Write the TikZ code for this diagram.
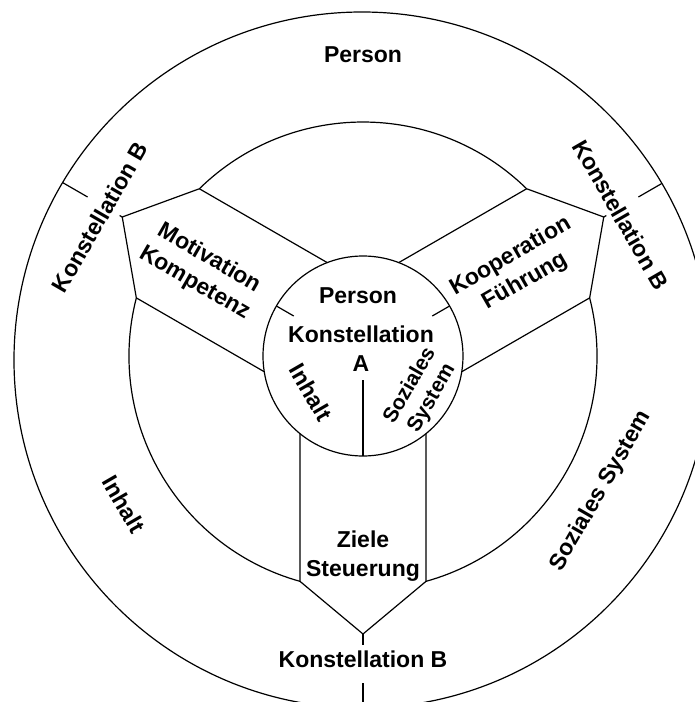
\documentclass[tikz,border=0pt]{standalone}
\usepackage{fontspec}
\setmainfont{Liberation Sans}

\tikzset{
  lbl/.style={font=\fontsize{11.5}{14.4}\selectfont\bfseries, align=center, inner sep=0pt},
  smalllbl/.style={lbl, font=\fontsize{10.5}{12.6}\selectfont\bfseries},
  ringline/.style={line width=0.6pt}
}

\begin{document}
\begin{tikzpicture}[x=0.5pt, y=0.5pt, ringline]
  \useasboundingbox (-363,-346) rectangle (332,356);
  \clip (-363,-346) rectangle (332,356);

  % Outer ring
  \draw (-1,-4) circle[radius=348];
  \draw (150:318) -- (150:347);
  \draw (30:318) -- (30:345);
  \draw (270:327) -- (270:352);
  \node[lbl] (outerPerson) at (0,301) {Person};
  \node[lbl, rotate=60] (outerKonstL) at (-263,139) {Konstellation B};
  \node[lbl, rotate=-60] (outerKonstR) at (258,141) {Konstellation B};
  \node[lbl] (outerKonstB) at (0,-303) {Konstellation B};
  \node[lbl, rotate=-60] (outerInhalt) at (-239,-148) {Inhalt};
  \node[lbl, rotate=60] (outerSozial) at (238,-135) {Soziales System};

  % Middle ring, broken by the three bands
  \draw (285.62:234) arc[start angle=285.62, end angle=374.38, radius=234];
  \draw (45.62:234) arc[start angle=45.62, end angle=134.38, radius=234];
  \draw (165.62:234) arc[start angle=165.62, end angle=254.38, radius=234];

  % Band upper left
  \draw (110.95:100) -- (134.38:234) -- (150:278) -- (165.62:234) -- (189.05:100);
  \draw (150:278) -- (150:281);
  \node[lbl, rotate=-30] (bandMotiv) at (-161,85) {Motivation\\Kompetenz};

  % Band upper right
  \draw (69.05:100) -- (45.62:234) -- (30:278) -- (14.38:234) -- (-9.05:100);
  \draw (30:278) -- (30:281);
  \node[lbl, rotate=30] (bandKoop) at (155,87) {Kooperation\\Führung};

  % Band bottom
  \draw (230.95:100) -- (254.38:234) -- (270:278) -- (285.62:234) -- (309.05:100);
  \draw (270:278) -- (270:289);
  \node[lbl] (bandZiele) at (0,-200) {Ziele\\Steuerung};

  % Inner circle
  \draw (0,0) circle[radius=100];
  \draw (150:80) -- (150:100);
  \draw (30:80) -- (30:100);
  \draw (270:24) -- (270:100);
  \node[lbl] (innerPerson) at (-5,60) {Person};
  \node[lbl] (innerKonst) at (-2,7) {Konstellation\\A};
  \node[lbl, rotate=-60] (innerInhalt) at (-52,-36) {Inhalt};
  \node[smalllbl, rotate=60] (innerSozial) at (58,-36) {Soziales\\System};
\end{tikzpicture}
\end{document}
